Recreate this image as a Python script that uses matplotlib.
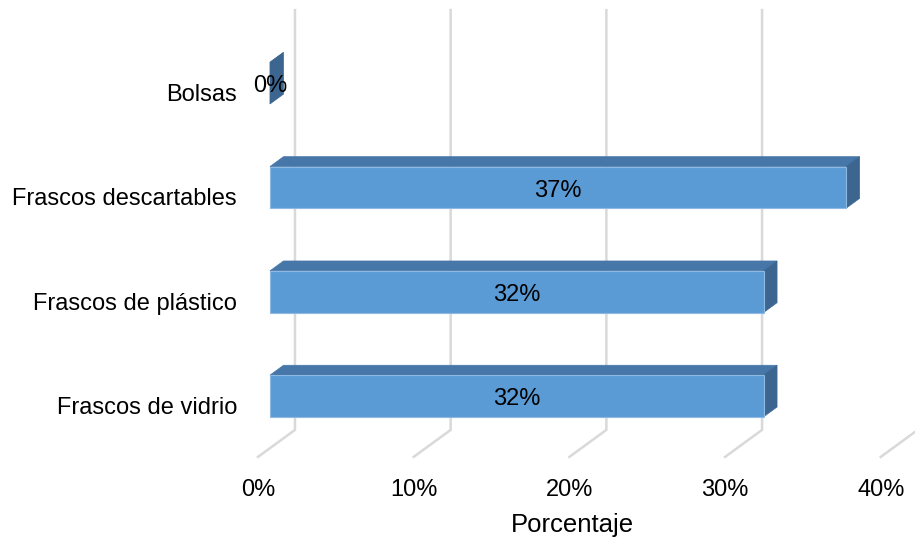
import matplotlib.pyplot as plt
from matplotlib.patches import Polygon

categorias = ['Frascos de vidrio', 'Frascos de plástico', 'Frascos descartables', 'Bolsas']
porcentajes = [31.7, 31.7, 37.0, 0.0]
etiquetas = ['32%', '32%', '37%', '0%']
ticks = [0, 10, 20, 30, 40]
tick_labels = ['0%', '10%', '20%', '30%', '40%']

plt.rcParams['font.family'] = ['Liberation Sans', 'DejaVu Sans']

fig = plt.figure(figsize=(9.15, 5.39), dpi=100)
ax = fig.add_axes([0, 0, 1, 1])
ax.set_xlim(-17.34, 41.43)
ax.set_ylim(-1.371, 3.797)
ax.axis('off')

# fake 3D: oblique shift for the full floor depth
DX, DY = 2.376, 0.259
d0, d1 = 0.324, 0.69   # bar front / back depth
FLOOR = -0.50
TOP = 3.525
h = 0.2

def p(x, y, d):
    return (x + (d - d0) * DX, y + (d - d0) * DY)

# gridlines (back wall + floor)
for t in ticks:
    pts = [p(t, FLOOR, 0), p(t, FLOOR, 1), p(t, TOP, 1)]
    ax.plot([q[0] for q in pts], [q[1] for q in pts], color='#d9d9d9', lw=1.8,
            zorder=1, solid_joinstyle='miter')

front_c = '#5b9bd5'
top_c = '#4677a8'
side_c = '#3c6590'

for i, v in enumerate(porcentajes):
    y0, y1 = i - h, i + h
    front = [p(0, y0, d0), p(v, y0, d0), p(v, y1, d0), p(0, y1, d0)]
    top = [p(0, y1, d0), p(v, y1, d0), p(v, y1, d1), p(0, y1, d1)]
    side = [p(v, y0, d0), p(v, y1, d0), p(v, y1, d1), p(v, y0, d1)]
    ax.add_patch(Polygon(top, closed=True, fc=top_c, ec=top_c, lw=0.5, zorder=2))
    ax.add_patch(Polygon(side, closed=True, fc=side_c, ec=side_c, lw=0.5, zorder=2))
    if v > 0:
        ax.add_patch(Polygon(front, closed=True, fc=front_c, ec='#8db9e3', lw=0.8, zorder=3))
    ax.text(v / 2, i - 0.03, etiquetas[i], ha='center', va='center', fontsize=17, zorder=5)
    ax.text(-2.12, i - d0 * DY - 0.03, categorias[i], ha='right', va='center', fontsize=17)

for t, lab in zip(ticks, tick_labels):
    ax.text(t - d0 * DX, -0.90, lab, ha='center', va='center', fontsize=17)

ax.text(19.43, -1.235, 'Porcentaje', ha='center', va='center', fontsize=18.5)

fig.savefig('out.png', dpi=100)
